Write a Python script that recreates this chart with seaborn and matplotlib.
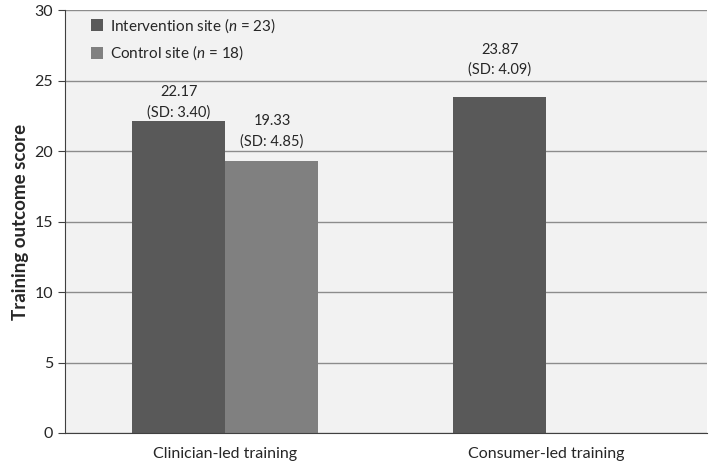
import pandas as pd
import seaborn as sns
import matplotlib.pyplot as plt

categories = ['Clinician-led training', 'Consumer-led training']
intervention = [22.17, 23.87]
control = [19.33, None]
intervention_sd = [3.40, 4.09]
control_sd = [4.85, None]
sites = ['Intervention site ($\\it{n}$ = 23)', 'Control site ($\\it{n}$ = 18)']

df = pd.DataFrame({
    'training': categories * 2,
    'site': [sites[0]] * 2 + [sites[1]] * 2,
    'score': intervention + control,
    'sd': intervention_sd + control_sd,
})

sns.set_style('white')
plt.rcParams['font.family'] = ['Lato', 'DejaVu Sans']
plt.rcParams['mathtext.fontset'] = 'custom'
plt.rcParams['mathtext.it'] = 'Lato:italic'
plt.rcParams['mathtext.rm'] = 'Lato'

fig = plt.figure(figsize=(7.09, 4.62), dpi=100)
axis1 = fig.add_axes([0.0917, 0.0628, 0.905, 0.915])
axis1.set_facecolor('#f2f2f2')
axis1 = sns.barplot(x='training', y='score', hue='site', data=df, ax=axis1,
                    palette=['#595959', '#808080'], width=0.58, saturation=1,
                    linewidth=0, edgecolor='none')

# value labels above bars (gap in points, container index, bar index)
gaps = {(0, 0): 0.5, (0, 1): 14, (1, 0): 8.5}
for i, (cont, site) in enumerate(zip(axis1.containers, sites)):
    sub = df[df['site'] == site].reset_index(drop=True)
    for j, (bar, (_, row)) in enumerate(zip(cont, sub.iterrows())):
        if pd.isna(row['score']):
            continue
        axis1.annotate('%.2f\n(SD: %.2f)' % (row['score'], row['sd']),
                       (bar.get_x() + bar.get_width() / 2, row['score']),
                       xytext=(0, gaps[(i, j)]), textcoords='offset points',
                       ha='center', va='bottom', fontsize=10.5, color='#262626',
                       linespacing=1.55)

axis1.set_ylim(0, 30)
axis1.set_xlim(-0.5, 1.5)
axis1.set_yticks(range(0, 31, 5))
axis1.yaxis.grid(True, color='#8c8c8c', linewidth=1)
axis1.set_axisbelow(True)
axis1.set_xticks([-0.5, 0.5, 1.5], minor=True)
axis1.tick_params(axis='x', which='major', length=0, pad=10, labelsize=11.5)
axis1.tick_params(axis='x', which='minor', length=5, color='#404040', direction='out')
axis1.tick_params(axis='y', length=5, color='#404040', direction='out', labelsize=11.5, left=True)
for s in ['top', 'right']:
    axis1.spines[s].set_visible(False)
for s in ['left', 'bottom']:
    axis1.spines[s].set_color('#404040')
axis1.set_ylabel('Training outcome score', fontsize=13.5, fontweight='bold')
axis1.set_xlabel('')

axis1.legend(loc='upper left', bbox_to_anchor=(0.019, 1.019), frameon=False, fontsize=11,
             handlelength=0.8, handleheight=0.8, labelspacing=0.6, handletextpad=0.45)

fig.savefig('out.png', dpi=100)
